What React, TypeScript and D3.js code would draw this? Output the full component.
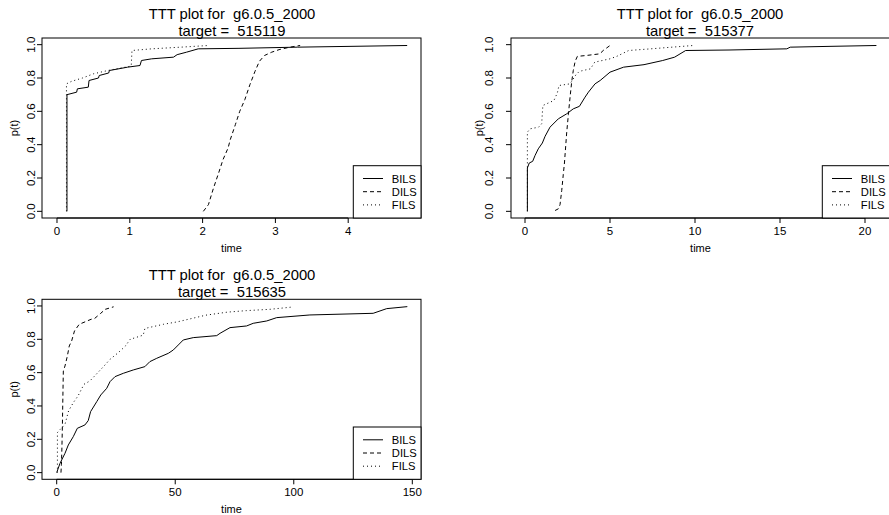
import React from "react";
import * as d3 from "d3";

// ---------- data ----------
const TITLE = "TTT plot for  g6.0.5_2000";
const TARGETS = ["515119", "515377", "515635"];
const SERIES_NAMES = ["BILS", "DILS", "FILS"];
const Y_TICKS = [0, 0.2, 0.4, 0.6, 0.8, 1.0];
const X_TICKS_1 = [0, 1, 2, 3, 4];
const X_TICKS_2 = [0, 5, 10, 15, 20];
const X_TICKS_3 = [0, 50, 100, 150];

type P = [number, number];

// panel 1 (target 515119)
const BILS_1: P[] = [
  [0.137, 0], [0.137, 0.70], [0.27, 0.715], [0.28, 0.735], [0.43, 0.745], [0.44, 0.785],
  [0.57, 0.80], [0.58, 0.815], [0.71, 0.83], [0.72, 0.845], [0.97, 0.865], [1.14, 0.875],
  [1.16, 0.905], [1.30, 0.915], [1.60, 0.925], [1.65, 0.94], [1.78, 0.955], [1.94, 0.975],
  [2.5, 0.978], [3.3, 0.985], [4.81, 0.995],
];
const DILS_1: P[] = [
  [2.01, 0], [2.08, 0.04], [2.15, 0.14], [2.22, 0.23], [2.28, 0.31], [2.35, 0.38], [2.38, 0.43],
  [2.45, 0.52], [2.51, 0.60], [2.58, 0.67], [2.65, 0.76], [2.72, 0.84], [2.78, 0.90],
  [2.85, 0.935], [2.95, 0.955], [3.05, 0.97], [3.2, 0.985], [3.34, 0.995],
];
const FILS_1: P[] = [
  [0.13, 0], [0.13, 0.765], [0.2, 0.78], [0.35, 0.80], [0.5, 0.825], [0.7, 0.845], [1.0, 0.87],
  [1.02, 0.875], [1.03, 0.965], [1.3, 0.975], [1.7, 0.985], [2.08, 0.995],
];

// panel 2 (target 515377)
const BILS_2: P[] = [
  [0.14, 0], [0.14, 0.26], [0.25, 0.29], [0.45, 0.30], [0.59, 0.335], [0.78, 0.375], [1.02, 0.41],
  [1.18, 0.45], [1.47, 0.505], [1.96, 0.555], [2.45, 0.585], [2.84, 0.615], [3.2, 0.63],
  [3.53, 0.685], [3.73, 0.715], [4.12, 0.765], [4.42, 0.785], [5.0, 0.835], [5.8, 0.865],
  [7.0, 0.88], [8.1, 0.905], [8.8, 0.925], [9.45, 0.965], [12, 0.968], [15.4, 0.975],
  [15.6, 0.985], [18, 0.99], [20.67, 0.995],
];
const DILS_2: P[] = [
  [1.77, 0.005], [1.96, 0.015], [2.06, 0.04], [2.16, 0.125], [2.25, 0.22], [2.32, 0.29],
  [2.4, 0.40], [2.45, 0.47], [2.55, 0.58], [2.65, 0.685], [2.75, 0.78], [2.84, 0.845],
  [2.95, 0.9], [3.08, 0.93], [3.6, 0.935], [4.4, 0.945], [4.6, 0.965], [5.0, 0.995],
];
const FILS_2: P[] = [
  [0.14, 0], [0.14, 0.475], [0.3, 0.495], [0.8, 0.505], [0.98, 0.525], [1.05, 0.635],
  [1.7, 0.665], [1.9, 0.71], [2.0, 0.755], [2.65, 0.765], [3.0, 0.82], [3.2, 0.84],
  [3.85, 0.855], [4.1, 0.895], [5.0, 0.915], [5.4, 0.93], [6.1, 0.965], [7.4, 0.975], [9.9, 0.995],
];

// panel 3 (target 515635)
const BILS_3: P[] = [
  [0, 0], [1.4, 0.056], [3.5, 0.116], [4.9, 0.166], [7.0, 0.216], [8.7, 0.266], [11.9, 0.286],
  [13.3, 0.312], [14.3, 0.366], [16.9, 0.426], [18.6, 0.466], [21.1, 0.506], [22.5, 0.546],
  [24.6, 0.576], [28.1, 0.596], [32.3, 0.616], [37.2, 0.636], [39.3, 0.666], [42.2, 0.686],
  [47.1, 0.716], [49.2, 0.736], [51.3, 0.766], [53.4, 0.796], [57.6, 0.81], [67.5, 0.822],
  [68.9, 0.836], [73.1, 0.87], [80.1, 0.88], [82.9, 0.896], [88.6, 0.91], [92.8, 0.93],
  [106.8, 0.946], [133.5, 0.956], [139.2, 0.984], [147.9, 0.996],
];
const DILS_3: P[] = [
  [1.8, 0], [2.0, 0.05], [2.2, 0.15], [2.4, 0.28], [2.6, 0.45], [2.8, 0.61], [3.5, 0.64],
  [4.5, 0.70], [5.3, 0.76], [6.3, 0.79], [7.5, 0.85], [9.5, 0.89], [12, 0.905], [14.5, 0.92],
  [16, 0.925], [18.5, 0.955], [20.5, 0.98], [24, 0.995],
];
const FILS_3: P[] = [
  [0.3, 0], [0.3, 0.24], [1.5, 0.26], [3.5, 0.29], [5, 0.37], [7, 0.42], [9, 0.46], [11.5, 0.53],
  [14, 0.55], [17, 0.595], [20, 0.64], [22.5, 0.68], [26, 0.72], [29, 0.76], [31, 0.80],
  [36.5, 0.825], [37.2, 0.865], [45, 0.89], [51, 0.905], [57, 0.925], [63, 0.945], [72, 0.963],
  [80, 0.972], [90, 0.98], [99, 0.993],
];

// ---------- layout ----------
const FONT = "'Liberation Sans', Arial, Helvetica, sans-serif";
const DASHES = [null, "4,3", "1,3"];

interface Layout {
  x0: number; x1: number; y0: number; y1: number;
  xDomain: [number, number];
  xTicks: number[];
  yTickLabelX: number;
  pLabelX: number;
  titleX: number;
}

const LAYOUTS: Layout[] = [
  { x0: 42, x1: 421, y0: 38, y1: 218, xDomain: [-0.206, 5.0], xTicks: X_TICKS_1, yTickLabelX: 31, pLabelX: 14, titleX: 232 },
  { x0: 511, x1: 890, y0: 38, y1: 218, xDomain: [-0.824, 21.47], xTicks: X_TICKS_2, yTickLabelX: 488.5, pLabelX: 479, titleX: 700 },
  { x0: 42, x1: 421, y0: 299.3, y1: 479.3, xDomain: [-6.2, 153.67], xTicks: X_TICKS_3, yTickLabelX: 31, pLabelX: 14, titleX: 232 },
];

const PANEL_SERIES: P[][][] = [
  [BILS_1, DILS_1, FILS_1],
  [BILS_2, DILS_2, FILS_2],
  [BILS_3, DILS_3, FILS_3],
];

const PRE: React.CSSProperties = { whiteSpace: "pre" };

function Panel({ layout, series, target }: { layout: Layout; series: P[][]; target: string }) {
  const { x0, x1, y0, y1 } = layout;
  const xs = d3.scaleLinear().domain(layout.xDomain).range([x0, x1]);
  const ys = d3.scaleLinear().domain([-0.04, 1.04]).range([y1, y0]);
  const line = d3.line<P>().x((d) => xs(d[0])).y((d) => ys(d[1]));
  const midY = (y0 + y1) / 2;
  const legX = x1 - 67.7;
  const legY = y1 - 52.3;
  return (
    <g>
      <text x={layout.titleX} y={y0 - 19.5} textAnchor="middle" fontSize={14.8} fontFamily={FONT} fill="#000" style={PRE}>
        {TITLE}
      </text>
      <text x={layout.titleX} y={y0 - 2.3} textAnchor="middle" fontSize={14.8} fontFamily={FONT} fill="#000" style={PRE}>
        {"target =  " + target}
      </text>
      <rect x={x0} y={y0} width={x1 - x0} height={y1 - y0} fill="none" stroke="#000" strokeWidth={1} />
      {/* y axis */}
      {Y_TICKS.map((t) => (
        <g key={"y" + t}>
          <line x1={x0 - 5} x2={x0} y1={ys(t)} y2={ys(t)} stroke="#000" />
          <text
            transform={`translate(${layout.yTickLabelX},${ys(t)}) rotate(-90)`}
            textAnchor="middle"
            dominantBaseline="central"
            fontSize={11.5}
            fontFamily={FONT}
            fill="#000"
          >
            {d3.format(".1f")(t)}
          </text>
        </g>
      ))}
      <text
        transform={`translate(${layout.pLabelX},${midY}) rotate(-90)`}
        textAnchor="middle"
        dominantBaseline="central"
        fontSize={11}
        fontFamily={FONT}
        fill="#000"
      >
        p(t)
      </text>
      {/* x axis */}
      <line x1={xs(layout.xTicks[0])} x2={xs(layout.xTicks[layout.xTicks.length - 1])} y1={y1} y2={y1} stroke="#000" />
      {layout.xTicks.map((t) => (
        <g key={"x" + t}>
          <line x1={xs(t)} x2={xs(t)} y1={y1} y2={y1 + 5} stroke="#000" />
          <text x={xs(t)} y={y1 + 12.5} textAnchor="middle" dominantBaseline="central" fontSize={11.5} fontFamily={FONT} fill="#000">
            {t}
          </text>
        </g>
      ))}
      <text x={(x0 + x1) / 2} y={y1 + 29.5} textAnchor="middle" dominantBaseline="central" fontSize={11} fontFamily={FONT} fill="#000">
        time
      </text>
      {/* curves */}
      {series.map((s, i) => (
        <path
          key={"s" + i}
          d={line(s) || ""}
          fill="none"
          stroke="#000"
          strokeWidth={1}
          strokeDasharray={DASHES[i] || undefined}
        />
      ))}
      {/* legend */}
      <rect x={legX} y={legY} width={x1 - legX} height={y1 - legY} fill="#fff" stroke="#000" strokeWidth={1} />
      {SERIES_NAMES.map((n, i) => {
        const cy = legY + 12.8 + i * 13.2;
        return (
          <g key={n}>
            <line x1={legX + 9.7} x2={legX + 29.7} y1={cy} y2={cy} stroke="#000" strokeWidth={1} strokeDasharray={DASHES[i] || undefined} />
            <text x={legX + 38.5} y={cy} dominantBaseline="central" fontSize={11.2} fontFamily={FONT} fill="#000">
              {n}
            </text>
          </g>
        );
      })}
    </g>
  );
}

export default function App() {
  return (
    <svg
      width={889}
      height={515}
      style={{ position: "absolute", left: 0, top: 0, display: "block", background: "#fff" }}
    >
      <rect x={0} y={0} width={889} height={515} fill="#fff" />
      {LAYOUTS.map((l, i) => (
        <Panel key={i} layout={l} series={PANEL_SERIES[i]} target={TARGETS[i]} />
      ))}
    </svg>
  );
}
